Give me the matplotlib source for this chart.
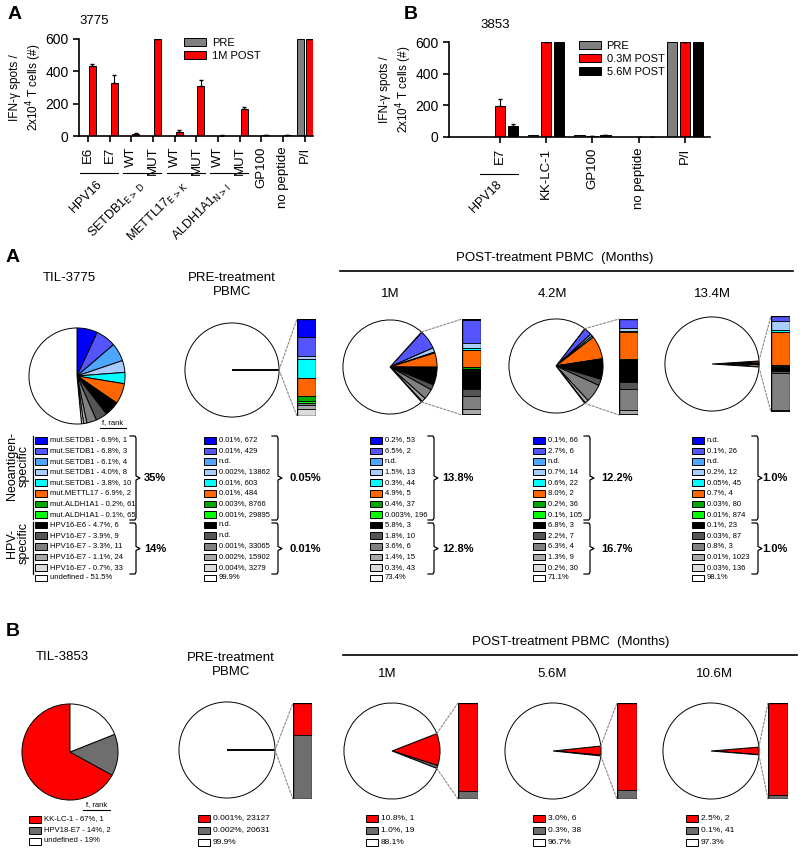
import matplotlib
matplotlib.use("Agg")
import matplotlib.pyplot as plt
from matplotlib.patches import Rectangle, ConnectionPatch
import math

plt.rcParams['font.family'] = ['Liberation Sans', 'DejaVu Sans']

# ---------------- data: ELISpot bar charts ----------------
cats_3775 = ['E6', 'E7', 'WT', 'MUT', 'WT', 'MUT', 'WT', 'MUT', 'GP100', 'no peptide', 'P/I']
pre_3775 = [0, 0, 0, 0, 0, 0, 0, 0, 0, 0, 600]
post1m_3775 = [430, 325, 12, 600, 22, 310, 3, 165, 4, 6, 600]
post1m_err = [18, 50, 4, 0, 14, 35, 2, 12, 2, 2, 0]
groups_3775 = [(0, 1, 'HPV16'), (2, 3, r'SETDB1$_{\mathrm{E{>}D}}$'),
               (4, 5, r'METTL17$_{\mathrm{E{>}K}}$'), (6, 7, r'ALDH1A1$_{\mathrm{N{>}I}}$')]

cats_3853 = ['E7', 'KK-LC-1', 'GP100', 'no peptide', 'P/I']
pre_3853 = [3, 15, 15, 0, 600]
post03_3853 = [195, 600, 5, 0, 600]
post03_err = [45, 0, 0, 0, 0]
post56_3853 = [70, 600, 12, 0, 600]
post56_err = [10, 0, 0, 0, 0]

# ---------------- data: clonotype pies, patient 3775 ----------------
til3775_names = ['mut.SETDB1'] * 5 + ['mut.METTL17', 'mut.ALDH1A1', 'mut.ALDH1A1',
                                      'HPV16-E6'] + ['HPV16-E7'] * 4 + ['undefined']
til3775_pct = ['6.9', '6.8', '6.1', '4.0', '3.8', '6.9', '0.2', '0.1', '4.7', '3.9', '3.3', '1.1', '0.7', '51.5']
til3775_rank = [1, 3, 4, 8, 10, 2, 61, 65, 6, 9, 11, 24, 33]

pre3775_pct = ['0.01', '0.01', 'n.d.', '0.002', '0.01', '0.01', '0.003', '0.001',
               'n.d.', 'n.d.', '0.001', '0.002', '0.004', '99.9']
pre3775_rank = [672, 429, None, 13862, 603, 484, 8766, 29895, None, None, 33065, 15902, 3279]

m1_3775_pct = ['0.2', '6.5', 'n.d.', '1.5', '0.3', '4.9', '0.4', '0.003',
               '5.8', '1.8', '3.6', '1.4', '0.3', '73.4']
m1_3775_rank = [53, 2, None, 13, 44, 5, 37, 196, 3, 10, 6, 15, 43]

m42_3775_pct = ['0.1', '2.7', 'n.d.', '0.7', '0.6', '8.0', '0.2', '0.1',
                '6.8', '2.2', '6.3', '1.3', '0.2', '71.1']
m42_3775_rank = [66, 6, None, 14, 22, 2, 36, 105, 3, 7, 4, 9, 30]

m134_3775_pct = ['n.d.', '0.1', 'n.d.', '0.2', '0.05', '0.7', '0.03', '0.01',
                 '0.1', '0.03', '0.8', '0.01', '0.03', '98.1']
m134_3775_rank = [None, 26, None, 12, 45, 4, 80, 874, 23, 87, 3, 1023, 136]

neo_totals = ['35%', '0.05%', '13.8%', '12.2%', '1.0%']
hpv_totals = ['14%', '0.01%', '12.8%', '16.7%', '1.0%']

colors_3775 = ['#0000ff', '#5555ff', '#4da6ff', '#a9cdff', '#00ffff', '#ff6600',
               '#00a800', '#00ff00', '#000000', '#555555', '#808080', '#a8a8a8',
               '#dcdcdc', '#ffffff']

# ---------------- data: clonotype pies, patient 3853 ----------------
til3853_names = ['KK-LC-1', 'HPV18-E7', 'undefined']
til3853_pct = ['67', '14', '19']
til3853_rank = [1, 2]
pre3853_pct = ['0.001', '0.002', '99.9']
pre3853_rank = [23127, 20631]
m1_3853_pct = ['10.8', '1.0', '88.1']
m1_3853_rank = [1, 19]
m56_3853_pct = ['3.0', '0.3', '96.7']
m56_3853_rank = [6, 38]
m106_3853_pct = ['2.5', '0.1', '97.3']
m106_3853_rank = [2, 41]
colors_3853 = ['#ff0000', '#6e6e6e', '#ffffff']

W, H = 800, 849
fig = plt.figure(figsize=(W / 100, H / 100), dpi=100)


def box(x0, y0, x1, y1):
    return [x0 / W, 1 - y1 / H, (x1 - x0) / W, (y1 - y0) / H]


def num(s):
    return 0.0 if s == 'n.d.' else float(s)


# overlay axes in pixel units for text, legends, braces
ov = fig.add_axes([0, 0, 1, 1])
ov.set_xlim(0, W)
ov.set_ylim(H, 0)
ov.axis('off')


def style_bar_axes(ax):
    ax.spines['top'].set_visible(False)
    ax.spines['right'].set_visible(False)
    ax.spines['left'].set_linewidth(1.2)
    ax.spines['bottom'].set_linewidth(1.2)
    ax.set_ylim(0, 600)
    ax.set_yticks([0, 200, 400, 600])
    ax.tick_params(axis='y', labelsize=10, width=1.2, length=4)
    ax.tick_params(axis='x', labelsize=9.5, width=1.2, length=4, rotation=90)
    ax.set_ylabel('IFN-γ spots /\n2x10$^4$ T cells (#)', fontsize=8.5, labelpad=1)


# ---- panel A: 3775 ELISpot ----
ax1 = fig.add_axes(box(79, 39, 313, 136))
x = list(range(len(cats_3775)))
ax1.bar([i - 0.2 for i in x], pre_3775, 0.33, color='#808080', edgecolor='black', lw=0.7, label='PRE')
ax1.bar([i + 0.2 for i in x], post1m_3775, 0.33, color='#ff0000', edgecolor='black', lw=0.7, label='1M POST')
ax1.errorbar([i + 0.2 for i in x], post1m_3775, yerr=[[0] * len(x), post1m_err],
             fmt='none', ecolor='black', elinewidth=0.8, capsize=1.5)
style_bar_axes(ax1)
ax1.set_xticks(x)
ax1.set_xticklabels(cats_3775)
ax1.set_xlim(-0.42, 10.38)
ax1.legend(loc='upper left', bbox_to_anchor=(0.43, 1.06), frameon=False, fontsize=8,
           handlelength=2.0, handleheight=0.8, handletextpad=0.5, labelspacing=0.25, borderaxespad=0)
tr = ax1.get_xaxis_transform()
for a, b, name in groups_3775:
    ax1.plot([a - 0.38, b + 0.38], [-0.38, -0.38], color='black', lw=0.8, transform=tr, clip_on=False)
    ax1.text((a + b) / 2 + 0.25, -0.44, name, transform=tr, rotation=45, ha='right', va='top', fontsize=9)
ax1.text(0.0, 1.12, '3775', transform=ax1.transAxes, fontsize=9.5, va='bottom')

# ---- panel B: 3853 ELISpot ----
ax2 = fig.add_axes(box(449, 42, 710, 137))
x = list(range(len(cats_3853)))
ax2.bar([i - 0.28 for i in x], pre_3853, 0.22, color='#808080', edgecolor='black', lw=0.7, label='PRE')
ax2.bar(x, post03_3853, 0.22, color='#ff0000', edgecolor='black', lw=0.7, label='0.3M POST')
ax2.bar([i + 0.28 for i in x], post56_3853, 0.22, color='#000000', edgecolor='black', lw=0.7, label='5.6M POST')
ax2.errorbar(x, post03_3853, yerr=[[0] * len(x), post03_err], fmt='none', ecolor='black', elinewidth=0.8, capsize=1.5)
ax2.errorbar([i + 0.28 for i in x], post56_3853, yerr=[[0] * len(x), post56_err], fmt='none',
             ecolor='black', elinewidth=0.8, capsize=1.5)
style_bar_axes(ax2)
ax2.set_xticks(x)
ax2.set_xticklabels(cats_3853)
ax2.set_xlim(-1.1, 4.54)
ax2.legend(loc='upper left', bbox_to_anchor=(0.48, 1.06), frameon=False, fontsize=8,
           handlelength=2.0, handleheight=0.8, handletextpad=0.5, labelspacing=0.25, borderaxespad=0)
tr = ax2.get_xaxis_transform()
ax2.plot([-0.42, 0.4], [-0.39, -0.39], color='black', lw=0.8, transform=tr, clip_on=False)
ax2.text(0.1, -0.44, 'HPV18', transform=tr, rotation=45, ha='right', va='top', fontsize=9)
ax2.text(0.12, 1.12, '3853', transform=ax2.transAxes, fontsize=9.5, va='bottom')

ov.text(8, 14, 'A', fontsize=14, fontweight='bold', va='center')
ov.text(404, 14, 'B', fontsize=14, fontweight='bold', va='center')


# ---------------- pie helpers ----------------
def draw_pie(cx, cy, r, vals, colors, start=None, ccw=False):
    ax = fig.add_axes(box(cx - r, cy - r, cx + r, cy + r))
    if start is None:
        start = sum(vals[:-1]) / sum(vals) * 180.0
    ax.pie(vals, colors=colors, startangle=start, counterclock=ccw,
           wedgeprops=dict(edgecolor='black', linewidth=0.7))
    ax.set_xlim(-1.02, 1.02)
    ax.set_ylim(-1.02, 1.02)
    ax.axis('off')
    return ax, start


def draw_zoom_bar(x0, y0, x1, y1, vals, colors, pie_ax, start):
    ax = fig.add_axes(box(x0, y0, x1, y1))
    seg = vals[:-1]
    bottom = 0
    for v, c in zip(seg, colors):
        ax.bar(0.5, v, 1.0, bottom=bottom, color=c, edgecolor='black', lw=0.6)
        bottom += v
    ax.set_xlim(0, 1)
    ax.set_ylim(sum(seg), 0)
    ax.axis('off')
    ax.add_patch(Rectangle((0, 0), 1, sum(seg), fill=False, ec='black', lw=1.0))
    a = math.radians(start)
    for yb, sgn in ((1, 1), (0, -1)):
        con = ConnectionPatch(xyA=(math.cos(a), sgn * math.sin(a)), coordsA='data', axesA=pie_ax,
                              xyB=(0, yb), coordsB='axes fraction', axesB=ax,
                              color='#888888', lw=0.8, linestyle=(0, (2, 1.5)))
        fig.add_artist(con)


def legend_col(x, y0, dy, colors, texts, fs=5.5):
    for i, (c, t) in enumerate(zip(colors, texts)):
        y = y0 + i * dy
        ov.add_patch(Rectangle((x, y - 3), 12, 6.5, fc=c, ec='black', lw=0.7))
        ov.text(x + 15, y, t, fontsize=fs, va='center')


def brace(x, ytop, ybot, label, lx):
    ym = (ytop + ybot) / 2
    ov.plot([x - 6, x - 1, x, x, x + 4, x, x, x - 1, x - 6],
            [ytop, ytop, ytop + 2, ym - 2, ym, ym + 2, ybot - 2, ybot, ybot],
            color='black', lw=0.9)
    ov.text(lx, ym, label, fontsize=8, fontweight='bold', va='center')


def labels_from(pct, rank):
    out = []
    for p, r in zip(pct[:-1], rank):
        out.append('n.d.' if p == 'n.d.' else f'{p}%, {r}')
    out.append(f'{pct[-1]}%')
    return out


# ---------------- lower panel A (3775) ----------------
ov.text(6, 257, 'A', fontsize=14, fontweight='bold', va='center')
ov.text(69, 278, 'TIL-3775', fontsize=9.5, ha='center', va='center')
ov.text(232, 285, 'PRE-treatment\nPBMC', fontsize=9.5, ha='center', va='center', linespacing=1.2)
ov.text(555, 258, 'POST-treatment PBMC  (Months)', fontsize=9.5, ha='center', va='center')
ov.plot([340, 793], [271, 271], color='black', lw=1.2)
for xc, t in ((390, '1M'), (552, '4.2M'), (712, '13.4M')):
    ov.text(xc, 294, t, fontsize=9.5, ha='center', va='center')

vals = [num(s) for s in til3775_pct]
draw_pie(77, 376, 49, vals, colors_3775, start=90)

series = [(pre3775_pct, pre3775_rank, (232, 370), (297, 319, 316, 416)),
          (m1_3775_pct, m1_3775_rank, (390, 367), (462, 319, 481, 415)),
          (m42_3775_pct, m42_3775_rank, (556, 366), (619, 319, 638, 415)),
          (m134_3775_pct, m134_3775_rank, (712, 364), (771, 316, 790, 412))]
for pct, rank, (cx, cy), bb in series:
    vals = [num(s) for s in pct]
    pax, st = draw_pie(cx, cy, 48, vals, colors_3775)
    draw_zoom_bar(*bb, vals, colors_3775, pax, st)

y0, dy = 440, 10.6
til_texts = [f'{n} - {p}%, {r}' for n, p, r in zip(til3775_names, til3775_pct, til3775_rank)]
til_texts.append(f'undefined - {til3775_pct[-1]}%')
legend_col(35, y0, dy, colors_3775, til_texts)
ov.text(113, 423, 'f, rank', fontsize=5.5, ha='center', va='center')
ov.plot([100, 126], [428, 428], color='black', lw=0.8)
ov.plot([33, 33], [436, 519], color='black', lw=0.9)
ov.plot([33, 33], [522, 574], color='black', lw=0.9)
ov.text(18, 466, 'Neoantigen-\nspecific', fontsize=9, rotation=90, ha='center', va='center', linespacing=1.0)
ov.text(18, 543, 'HPV-\nspecific', fontsize=9, rotation=90, ha='center', va='center', linespacing=1.0)

leg_x = [204, 370, 533, 692]
brace_x = [278, 434, 590, 758]
label_x = [289, 442, 601, 762]
for i, (pct, rank, _, _) in enumerate(series):
    legend_col(leg_x[i], y0, dy, colors_3775, labels_from(pct, rank))
brace(136, 436, 520, neo_totals[0], 144)
brace(136, 523, 574, hpv_totals[0], 144)
for i in range(4):
    brace(brace_x[i], 436, 520, neo_totals[i + 1], label_x[i])
    brace(brace_x[i], 523, 574, hpv_totals[i + 1], label_x[i])

# ---------------- lower panel B (3853) ----------------
ov.text(6, 631, 'B', fontsize=14, fontweight='bold', va='center')
ov.text(62, 657, 'TIL-3853', fontsize=9.5, ha='center', va='center')
ov.text(231, 665, 'PRE-treatment\nPBMC', fontsize=9.5, ha='center', va='center', linespacing=1.2)
ov.text(571, 642, 'POST-treatment PBMC  (Months)', fontsize=9.5, ha='center', va='center')
ov.plot([343, 797], [655, 655], color='black', lw=1.2)
for xc, t in ((387, '1M'), (552, '5.6M'), (714, '10.6M')):
    ov.text(xc, 674, t, fontsize=9.5, ha='center', va='center')

vals = [num(s) for s in til3853_pct]
draw_pie(70, 752, 49, vals, colors_3853, start=90, ccw=True)

series_b = [(pre3853_pct, pre3853_rank, (227, 750), (293, 703, 312, 799)),
            (m1_3853_pct, m1_3853_rank, (392, 751), (458, 703, 478, 799)),
            (m56_3853_pct, m56_3853_rank, (553, 751), (617, 703, 637, 799)),
            (m106_3853_pct, m106_3853_rank, (711, 751), (768, 703, 788, 799))]
for pct, rank, (cx, cy), bb in series_b:
    vals = [num(s) for s in pct]
    pax, st = draw_pie(cx, cy, 49, vals, colors_3853)
    draw_zoom_bar(*bb, vals, colors_3853, pax, st)

tb = [f'{n} - {p}%, {r}' for n, p, r in zip(til3853_names, til3853_pct, til3853_rank)]
tb.append(f'undefined - {til3853_pct[-1]}%')
legend_col(29, 819, 11, colors_3853, tb)
ov.text(97, 805, 'f, rank', fontsize=5.5, ha='center', va='center')
ov.plot([83, 110], [810, 810], color='black', lw=0.8)
for xl, (pct, rank, _, _) in zip([198, 366, 533, 686], series_b):
    legend_col(xl, 818, 12, colors_3853, labels_from(pct, rank), fs=6)

fig.savefig('out.png', dpi=100)
